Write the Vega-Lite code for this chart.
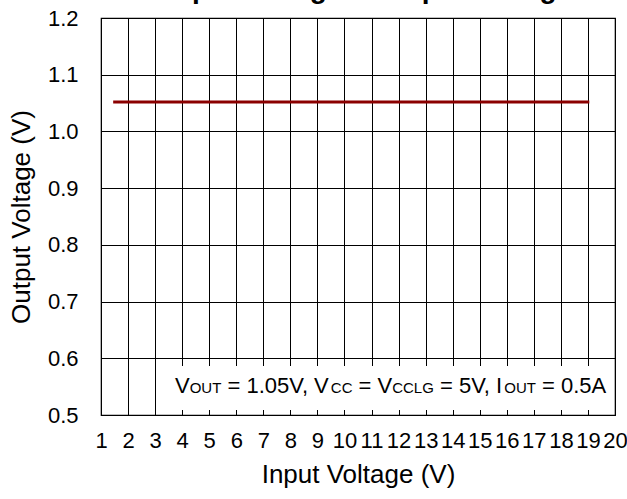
{
  "$schema": "https://vega.github.io/schema/vega-lite/v6.json",
  "autosize": {"type": "none"},
  "width": 514,
  "height": 397,
  "padding": {"left": 101, "top": 18, "right": 12, "bottom": 84},
  "background": "white",
  "title": {
    "text": "Output Voltage vs. Input Voltage",
    "font": "Liberation Sans",
    "fontSize": 28,
    "fontWeight": "bold",
    "color": "black",
    "anchor": "middle",
    "frame": "group",
    "baseline": "alphabetic",
    "offset": 0,
    "dy": 19
  },
  "config": {
    "view": {"stroke": "black", "strokeWidth": 1.2},
    "axis": {
      "labelFont": "Liberation Sans",
      "titleFont": "Liberation Sans",
      "labelColor": "black",
      "titleColor": "black",
      "labelFontSize": 22,
      "titleFontSize": 26,
      "titleFontWeight": "normal",
      "grid": true,
      "gridColor": "black",
      "gridOpacity": 1,
      "gridWidth": 1,
      "ticks": false,
      "domain": false,
      "labelFlush": false,
      "labelOverlap": false
    }
  },
  "layer": [
    {
      "data": {"values": [{"a": 1}]},
      "mark": {"type": "rect", "fill": "white", "stroke": null},
      "encoding": {
        "x": {"datum": 3.4, "type": "quantitative", "scale": {"domain": [1, 20], "nice": false, "zero": false},
              "axis": {"values": [1,2,3,4,5,6,7,8,9,10,11,12,13,14,15,16,17,18,19,20], "title": "Input Voltage (V)", "labelPadding": 15, "titlePadding": 10}},
        "x2": {"datum": 19.89},
        "y": {"datum": 0.5863, "type": "quantitative", "scale": {"domain": [0.5, 1.2], "nice": false, "zero": false},
              "axis": {"values": [0.5,0.6,0.7,0.8,0.9,1.0,1.1,1.2], "format": ".1f", "title": "Output Voltage (V)", "labelPadding": 23, "titlePadding": 13}},
        "y2": {"datum": 0.5088}
      }
    },
    {
      "data": {"values": [
        {"vin": 1.45, "vout": 1.052},
        {"vin": 2, "vout": 1.052},
        {"vin": 3, "vout": 1.052},
        {"vin": 4, "vout": 1.052},
        {"vin": 5, "vout": 1.052},
        {"vin": 6, "vout": 1.052},
        {"vin": 7, "vout": 1.052},
        {"vin": 8, "vout": 1.052},
        {"vin": 9, "vout": 1.052},
        {"vin": 10, "vout": 1.052},
        {"vin": 11, "vout": 1.052},
        {"vin": 12, "vout": 1.052},
        {"vin": 13, "vout": 1.052},
        {"vin": 14, "vout": 1.052},
        {"vin": 15, "vout": 1.052},
        {"vin": 16, "vout": 1.052},
        {"vin": 17, "vout": 1.052},
        {"vin": 18, "vout": 1.052},
        {"vin": 19.05, "vout": 1.052}
      ]},
      "mark": {"type": "line", "color": "#8B0000", "strokeWidth": 3},
      "encoding": {
        "x": {"field": "vin", "type": "quantitative",
              "axis": {"values": [1,2,3,4,5,6,7,8,9,10,11,12,13,14,15,16,17,18,19,20], "title": "Input Voltage (V)", "labelPadding": 15, "titlePadding": 10}},
        "y": {"field": "vout", "type": "quantitative",
              "axis": {"values": [0.5,0.6,0.7,0.8,0.9,1.0,1.1,1.2], "format": ".1f", "title": "Output Voltage (V)", "labelPadding": 23, "titlePadding": 13}}
      }
    },
    {
      "data": {"values": [
        {"t": "V", "pos": 3.735},
        {"t": "= 1.05V, V", "pos": 5.674},
        {"t": "= V", "pos": 10.521},
        {"t": "= 5V, I", "pos": 13.531},
        {"t": "= 0.5A", "pos": 17.301}
      ]},
      "mark": {"type": "text", "font": "Liberation Sans", "fontSize": 22, "align": "left", "baseline": "alphabetic", "color": "black"},
      "encoding": {
        "x": {"field": "pos", "type": "quantitative",
              "axis": {"values": [1,2,3,4,5,6,7,8,9,10,11,12,13,14,15,16,17,18,19,20], "title": "Input Voltage (V)", "labelPadding": 15, "titlePadding": 10}},
        "y": {"datum": 0.5388,
              "axis": {"values": [0.5,0.6,0.7,0.8,0.9,1.0,1.1,1.2], "format": ".1f", "title": "Output Voltage (V)", "labelPadding": 23, "titlePadding": 13}},
        "text": {"field": "t"}
      }
    },
    {
      "data": {"values": [
        {"t": "OUT", "pos": 4.277},
        {"t": "CC", "pos": 9.495},
        {"t": "CCLG", "pos": 11.764},
        {"t": "OUT", "pos": 15.905}
      ]},
      "mark": {"type": "text", "font": "Liberation Sans", "fontSize": 15, "align": "left", "baseline": "alphabetic", "color": "black"},
      "encoding": {
        "x": {"field": "pos", "type": "quantitative",
              "axis": {"values": [1,2,3,4,5,6,7,8,9,10,11,12,13,14,15,16,17,18,19,20], "title": "Input Voltage (V)", "labelPadding": 15, "titlePadding": 10}},
        "y": {"datum": 0.5388,
              "axis": {"values": [0.5,0.6,0.7,0.8,0.9,1.0,1.1,1.2], "format": ".1f", "title": "Output Voltage (V)", "labelPadding": 23, "titlePadding": 13}},
        "text": {"field": "t"}
      }
    }
  ]
}
